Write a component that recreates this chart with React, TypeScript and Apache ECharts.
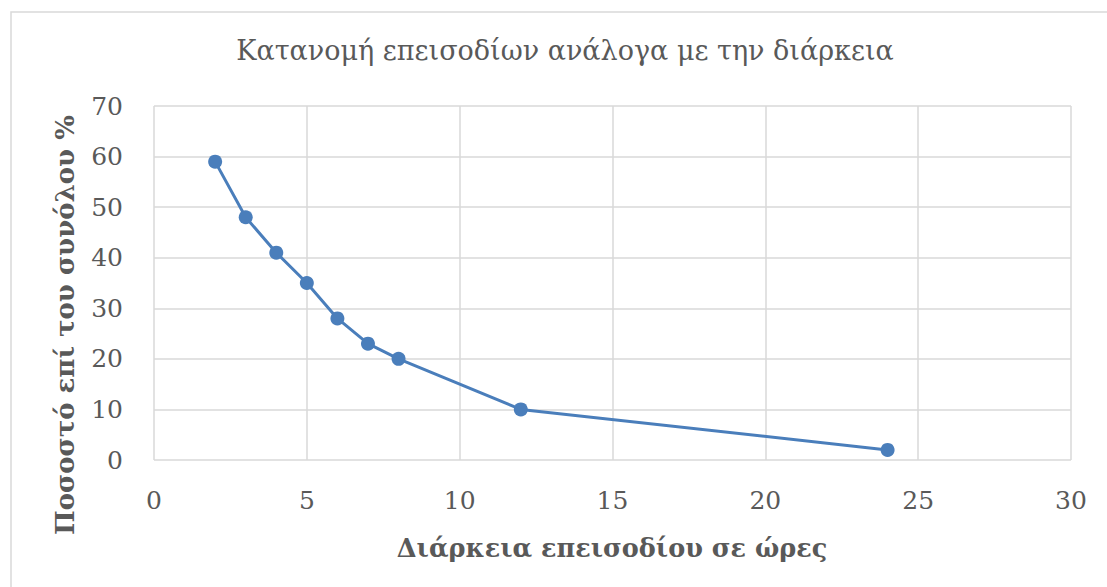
import React, { useEffect, useRef } from "react";
import * as echarts from "echarts";

// Episode duration (hours) and share of all episodes (%)
const durationHours = [2, 3, 4, 5, 6, 7, 8, 12, 24];
const sharePercent = [59, 48, 41, 35, 28, 23, 20, 10, 2];

const chartTitle = "Κατανομή επεισοδίων ανάλογα με την διάρκεια";
const xAxisTitle = "Διάρκεια επεισοδίου σε ώρες";
const yAxisTitle = "Ποσοστό επί του συνόλου %";

const FONT = "'DejaVu Serif', 'Liberation Serif', serif";
const TEXT = "#595959";
const GRID = "#d9d9d9";
const BLUE = "#4a7ebb";

export default function App() {
  const ref = useRef<HTMLDivElement>(null);

  useEffect(() => {
    if (!ref.current) return;
    const chart = echarts.init(ref.current, undefined, { renderer: "svg" });
    const points = durationHours.map((h, i) => [h, sharePercent[i]]);

    chart.setOption({
      animation: false,
      backgroundColor: "#ffffff",
      grid: { left: 154, top: 106, right: 36, bottom: 127 },
      xAxis: {
        type: "value",
        min: 0,
        max: 30,
        interval: 5,
        axisLine: { show: false },
        axisTick: { show: false },
        axisLabel: { color: TEXT, fontFamily: FONT, fontSize: 25, margin: 28 },
        splitLine: { show: true, lineStyle: { color: GRID, width: 1.5 } },
      },
      yAxis: {
        type: "value",
        min: 0,
        max: 70,
        interval: 10,
        axisLine: { show: false },
        axisTick: { show: false },
        axisLabel: { color: TEXT, fontFamily: FONT, fontSize: 25, margin: 31 },
        splitLine: { show: true, lineStyle: { color: GRID, width: 1.5 } },
      },
      graphic: [
        {
          type: "rect",
          shape: { x: 11, y: 12, width: 1200, height: 700 },
          style: { fill: "none", stroke: GRID, lineWidth: 1.5 },
          silent: true,
        },
        {
          type: "text",
          x: 565,
          y: 50,
          style: {
            text: chartTitle,
            fill: TEXT,
            font: `27px ${FONT}`,
            align: "center",
            verticalAlign: "middle",
          },
        },
        {
          type: "text",
          x: 612,
          y: 548,
          style: {
            text: xAxisTitle,
            fill: TEXT,
            font: `bold 25.5px ${FONT}`,
            align: "center",
            verticalAlign: "middle",
          },
        },
        {
          type: "text",
          x: 65,
          y: 325,
          rotation: Math.PI / 2,
          style: {
            text: yAxisTitle,
            fill: TEXT,
            font: `bold 26px ${FONT}`,
            align: "center",
            verticalAlign: "middle",
          },
        },
      ],
      series: [
        {
          type: "line",
          data: points,
          symbol: "circle",
          symbolSize: 14,
          lineStyle: { color: BLUE, width: 3 },
          itemStyle: { color: BLUE },
        },
      ],
    });

    return () => chart.dispose();
  }, []);

  return (
    <div
      ref={ref}
      style={{ position: "fixed", left: 0, top: 0, width: 1107, height: 587 }}
    />
  );
}
